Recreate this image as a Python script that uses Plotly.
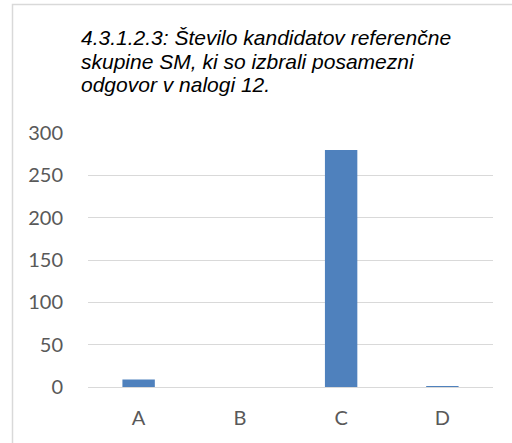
import plotly.graph_objects as go

categories = ["A", "B", "C", "D"]
values = [9, 0, 280, 1]
y_ticks = [0, 50, 100, 150, 200, 250, 300]
title_lines = ["4.3.1.2.3: Število kandidatov referenčne",
               "skupine SM, ki so izbrali posamezni",
               "odgovor v nalogi 12."]

W, H = 512, 443
L, R, T, B = 88, 19, 133, 56
pw, ph = W - L - R, H - T - B

def px_x(x):
    return (x - L) / pw

def px_y(y):
    return (H - B - y) / ph

fig = go.Figure(go.Bar(x=categories, y=values, marker=dict(color="#4F81BD", line=dict(width=0))))

annotations = []
for i, line in enumerate(title_lines):
    annotations.append(dict(text="<i>" + line + "</i>", xref="paper", yref="paper",
                            x=px_x(79), y=px_y(37 + 24 * i),
                            xanchor="left", yanchor="middle", align="left", showarrow=False,
                            font=dict(family="Liberation Sans, Arial, sans-serif", size=21,
                                      color="black")))

fig.update_layout(
    width=W, height=H,
    margin=dict(l=L, r=R, t=T, b=B),
    paper_bgcolor="white", plot_bgcolor="white",
    bargap=0.68,
    showlegend=False,
    font=dict(family="Lato, Noto Sans, sans-serif", size=20, color="#595959"),
    xaxis=dict(showgrid=False, showline=False, zeroline=False,
               ticks="outside", ticklen=13, tickcolor="rgba(0,0,0,0)"),
    yaxis=dict(range=[0, 300], tickvals=y_ticks, showgrid=True, gridcolor="#d9d9d9",
               gridwidth=1, zeroline=True, zerolinecolor="#d9d9d9", zerolinewidth=1,
               showline=False, ticks="outside", ticklen=20, tickcolor="rgba(0,0,0,0)"),
    shapes=[dict(type="rect", xref="paper", yref="paper",
                 x0=px_x(12.5), x1=px_x(530), y0=px_y(4.5), y1=px_y(460),
                 line=dict(color="#d9d9d9", width=1.5), fillcolor="rgba(0,0,0,0)", layer="below")],
    annotations=annotations,
)

fig.write_html("out.html", config={"displayModeBar": False},
               post_script="document.body.style.margin='0px';document.body.style.overflow='hidden';")
